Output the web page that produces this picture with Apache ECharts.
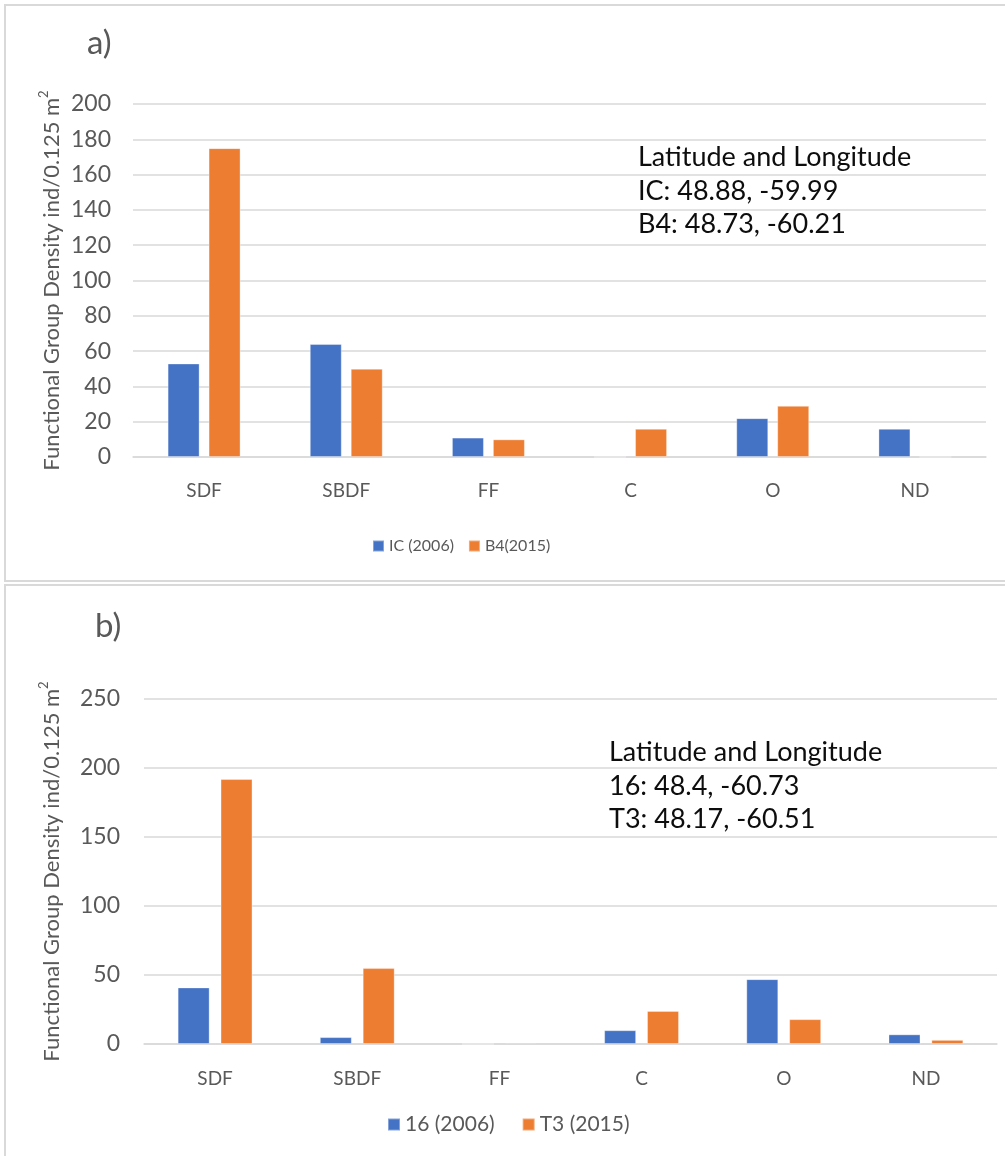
<!DOCTYPE html>
<html>
<head>
<meta charset="utf-8">
<script src="https://cdn.jsdelivr.net/npm/echarts@6/dist/echarts.min.js"></script>
<style>
  html, body { margin: 0; padding: 0; background: #fff; }
  #chart { width: 1005px; height: 1156px; }
</style>
</head>
<body>
<div id="chart"></div>
<script>
// Functional groups on the x axis
const groups = ['SDF', 'SBDF', 'FF', 'C', 'O', 'ND'];

// Panel a) densities (ind/0.125 m²)
const seriesNameA1 = 'IC (2006)';
const seriesNameA2 = 'B4(2015)';
const densityIC2006 = [53, 64, 11, 0, 22, 16];
const densityB42015 = [175, 50, 10, 16, 29, 0];
const yTicksA = { min: 0, max: 200, interval: 20 };

// Panel b) densities (ind/0.125 m²)
const seriesNameB1 = '16 (2006)';
const seriesNameB2 = 'T3 (2015)';
const density16_2006 = [41, 5, 0, 10, 47, 7];
const densityT3_2015 = [192, 55, 1, 24, 18, 3];
const yTicksB = { min: 0, max: 250, interval: 50 };

// Station coordinates shown inside each panel
const coordsA = ['Latitude and Longitude', 'IC: 48.88, -59.99', 'B4: 48.73, -60.21'];
const coordsB = ['Latitude and Longitude', '16: 48.4, -60.73', 'T3: 48.17, -60.51'];

const BLUE = '#4472C4';
const ORANGE = '#ED7D31';
const GREY = '#595959';
const GRID = '#d9d9d9';
const FONT = 'Lato, "Open Sans", sans-serif';

const yName = 'Functional Group Density ind/0.125 m{sup|2}';
const yNameStyle = {
  fontFamily: FONT, fontSize: 22, color: GREY,
  rich: { sup: { fontFamily: FONT, fontSize: 13, color: GREY, verticalAlign: 'top', lineHeight: 30 } }
};

function xAxisFor(gridIndex, margin) {
  return {
    type: 'category', gridIndex, data: groups,
    axisLine: { lineStyle: { color: GRID, width: 1.5 } },
    axisTick: { show: false },
    axisLabel: { color: GREY, fontFamily: FONT, fontSize: 19, margin }
  };
}
function yAxisFor(gridIndex, ticks, margin, nameGap) {
  return {
    type: 'value', gridIndex, min: ticks.min, max: ticks.max, interval: ticks.interval,
    name: yName, nameLocation: 'middle', nameGap, nameRotate: 90, nameTextStyle: yNameStyle,
    nameMoveOverlap: false,
    axisLine: { show: false }, axisTick: { show: false },
    axisLabel: { color: GREY, fontFamily: FONT, fontSize: 23, margin },
    splitLine: { lineStyle: { color: GRID, width: 1.5 } }
  };
}
function barSeries(name, data, color, idx, gap) {
  return {
    type: 'bar', name, data, xAxisIndex: idx, yAxisIndex: idx,
    barWidth: 32, barGap: gap,
    itemStyle: { color, borderColor: 'rgba(255,255,255,0.35)', borderWidth: 1 },
    emphasis: { disabled: true }
  };
}
function coordText(lines, left, top) {
  return {
    type: 'text', left, top,
    style: { text: lines.join('\n'), font: '27px ' + FONT, fill: '#0d0d0d', lineHeight: 33.5 }
  };
}

const chart = echarts.init(document.getElementById('chart'), null, { renderer: 'canvas' });
chart.setOption({
  animation: false,
  backgroundColor: '#fff',
  title: [
    { text: 'a)', left: 82, top: 22, textStyle: { fontFamily: FONT, fontSize: 33, fontWeight: 'normal', color: GREY } },
    { text: 'b)', left: 90, top: 605, textStyle: { fontFamily: FONT, fontSize: 33, fontWeight: 'normal', color: GREY } }
  ],
  legend: [
    {
      data: [seriesNameA1, seriesNameA2], left: 367, top: 533,
      icon: 'rect', itemWidth: 11, itemHeight: 11, itemGap: 14,
      textStyle: { fontFamily: FONT, fontSize: 16, color: GREY }
    },
    {
      data: [seriesNameB1, seriesNameB2], left: 382, top: 1109,
      icon: 'rect', itemWidth: 12, itemHeight: 12, itemGap: 27,
      textStyle: { fontFamily: FONT, fontSize: 21, color: GREY }
    }
  ],
  grid: [
    { left: 133, right: 19, top: 104, bottom: 1156 - 457 },
    { left: 144, right: 8, top: 699, bottom: 1156 - 1044 }
  ],
  xAxis: [xAxisFor(0, 24), xAxisFor(1, 25)],
  yAxis: [yAxisFor(0, yTicksA, 22, 66), yAxisFor(1, yTicksB, 24, 77)],
  series: [
    barSeries(seriesNameA1, densityIC2006, BLUE, 0, '28%'),
    barSeries(seriesNameA2, densityB42015, ORANGE, 0, '28%'),
    barSeries(seriesNameB1, density16_2006, BLUE, 1, '34%'),
    barSeries(seriesNameB2, densityT3_2015, ORANGE, 1, '34%')
  ],
  graphic: [
    { type: 'rect', shape: { x: 5, y: 5, width: 1020, height: 576 }, style: { fill: 'none', stroke: GRID, lineWidth: 2 }, silent: true },
    { type: 'rect', shape: { x: 5, y: 585, width: 1020, height: 600 }, style: { fill: 'none', stroke: GRID, lineWidth: 2 }, silent: true },
    coordText(coordsA, 638, 141),
    coordText(coordsB, 609, 736)
  ]
});
</script>
</body>
</html>
